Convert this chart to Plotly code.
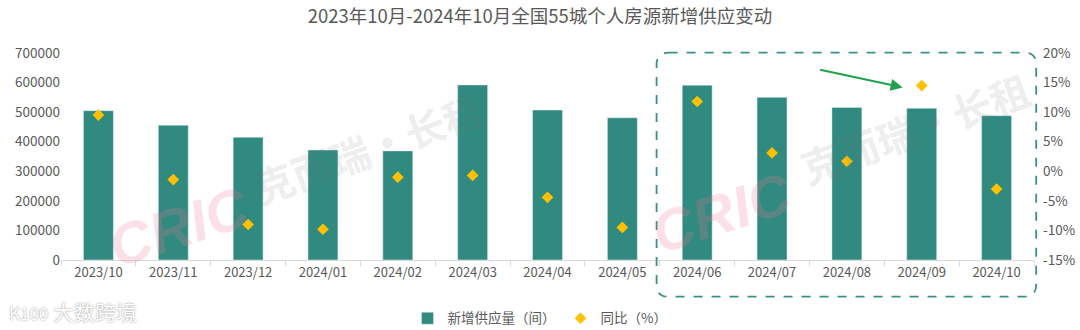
import plotly.graph_objects as go

months = ["2023/10", "2023/11", "2023/12", "2024/01", "2024/02", "2024/03", "2024/04",
          "2024/05", "2024/06", "2024/07", "2024/08", "2024/09", "2024/10"]
supply = [505000, 456000, 415000, 372000, 369000, 592000, 507000,
          481000, 591000, 550000, 516000, 513000, 488000]
yoy = [9.5, -1.4, -9.0, -9.8, -1.0, -0.7, -4.4, -9.5, 11.8, 3.1, 1.7, 14.5, -3.0]

left_ticks = [0, 100000, 200000, 300000, 400000, 500000, 600000, 700000]
right_ticks = [-15, -10, -5, 0, 5, 10, 15, 20]

FONT = "Noto Sans CJK SC"
GREY = "#595959"
TEAL = "#308A7F"
GOLD = "#FFC000"

fig = go.Figure()
fig.add_trace(go.Bar(x=months, y=supply, name="新增供应量（间）", marker_color=TEAL,
                     width=0.4, yaxis="y"))
fig.add_trace(go.Scatter(x=months, y=yoy, name="同比（%）", mode="markers",
                         marker=dict(symbol="diamond", color=GOLD, size=9), yaxis="y2"))

PX0, PX1, PY0, PY1 = 60.5, 1034.5, 53.0, 260.0
def px(x):
    return (x - PX0) / (PX1 - PX0)
def py(y):
    return (PY1 - y) / (PY1 - PY0)

x0, x1, y0, y1 = px(656.7), px(1036.7), py(296.7), py(52.7)
rx, ry = 12 / (PX1 - PX0), 12 / (PY1 - PY0)
path = (f"M {x0+rx},{y1} L {x1-rx},{y1} Q {x1},{y1} {x1},{y1-ry} "
        f"L {x1},{y0+ry} Q {x1},{y0} {x1-rx},{y0} L {x0+rx},{y0} "
        f"Q {x0},{y0} {x0},{y0+ry} L {x0},{y1-ry} Q {x0},{y1} {x0+rx},{y1} Z")
fig.add_shape(type="path", path=path, xref="paper", yref="paper",
              line=dict(color="#3A8F86", width=1.8, dash="dash"), layer="above")

def wm(x, y, text, family, size, color, angle):
    return dict(x=px(x), y=py(y), xref="paper", yref="paper", text=text, showarrow=False,
                xanchor="center", yanchor="middle", textangle=angle,
                font=dict(family=family, size=size, color=color))

annotations = [
    dict(x=px(903), y=py(87.5), xref="paper", yref="paper", ax=-84, ay=-18,
         showarrow=True, arrowhead=2, arrowsize=1.2, arrowwidth=2, arrowcolor="#1EA34B", text=""),
    wm(178, 226, "<b><i>CRIC</i></b>", "Liberation Sans", 58, "rgba(235,120,145,0.22)", -18),
    wm(368, 148, "<b>克而瑞·长租</b>", FONT, 40, "rgba(120,120,120,0.15)", -20),
    wm(722, 212, "<b><i>CRIC</i></b>", "Liberation Sans", 58, "rgba(235,120,145,0.22)", -18),
    wm(915, 128, "<b>克而瑞·长租</b>", FONT, 40, "rgba(120,120,120,0.15)", -20),
    dict(x=px(6), y=py(328), xref="paper", yref="paper", yanchor="bottom", xanchor="left",
         text="<span style='font-size:17px'>K100</span> 大数跨境", showarrow=False,
         font=dict(family=FONT, size=21, color="#ffffff", shadow="0px 0px 2px #888")),
]

fig.update_layout(
    width=1080, height=330,
    margin=dict(l=60.5, r=45.5, t=53, b=70, autoexpand=False),
    paper_bgcolor="white", plot_bgcolor="white",
    font=dict(family=FONT, color=GREY, size=13),
    title=dict(text="2023年10月-2024年10月全国55城个人房源新增供应变动", x=0.5, xanchor="center",
               xref="container", yref="container",
               y=0.95, yanchor="middle", font=dict(family=FONT, size=18.5, color=GREY)),
    xaxis=dict(type="category", range=[-0.5, 12.5], showgrid=False, showline=True,
               linecolor="#D9D9D9", linewidth=1,
               ticks="outside", tickson="boundaries", ticklen=5, tickcolor="#D9D9D9",
               tickfont=dict(size=13, color=GREY), automargin=False),
    yaxis=dict(range=[0, 700000], tickvals=left_ticks, ticktext=[str(v) for v in left_ticks],
               showgrid=False, zeroline=False, showline=False, ticks="", automargin=False,
               tickfont=dict(size=13.5, color=GREY)),
    yaxis2=dict(range=[-15, 20], tickvals=right_ticks, ticktext=[f"{v}%" for v in right_ticks],
                overlaying="y", side="right", showgrid=False, zeroline=False, showline=False,
                ticks="", ticklabelstandoff=8, automargin=False, tickfont=dict(size=13.5, color=GREY)),
    showlegend=True,
    legend=dict(orientation="h", x=0.5, xanchor="center", xref="container", yref="container",
                y=0.035, yanchor="middle",
                font=dict(size=13.5, color=GREY), bgcolor="rgba(0,0,0,0)"),
    bargap=0.6,
    annotations=annotations,
)

fig.write_html("out.html")
